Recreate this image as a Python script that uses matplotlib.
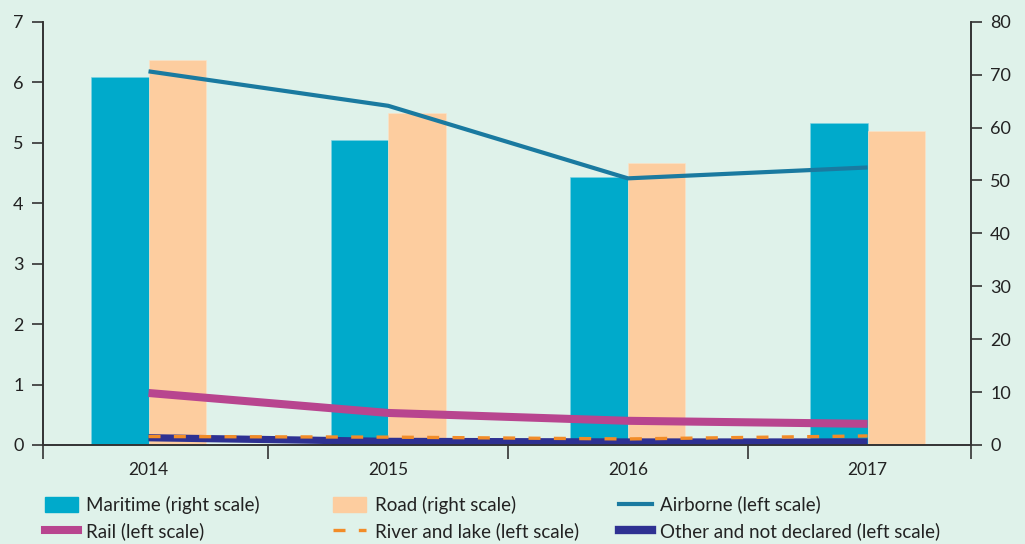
import matplotlib.pyplot as plt
import numpy as np
from matplotlib.patches import Patch
from matplotlib.lines import Line2D

plt.rcParams['font.family'] = ['Lato', 'DejaVu Sans']

years = ['2014', '2015', '2016', '2017']
maritime = [69.5, 57.7, 50.7, 60.9]    # right scale
road = [72.8, 62.8, 53.3, 59.4]        # right scale
airborne = [6.18, 5.61, 4.41, 4.59]    # left scale
rail = [0.86, 0.53, 0.40, 0.35]
river = [0.14, 0.13, 0.10, 0.15]
other = [0.12, 0.06, 0.05, 0.05]

bg = '#dff2ea'
c_mar = '#00aacb'
c_road = '#fdcd9f'
c_air = '#1a7aa0'
c_rail = '#b8458f'
c_river = '#f28c28'
c_other = '#2e3192'
c_axis = '#333333'

fig = plt.figure(figsize=(10.25, 5.44), dpi=100, facecolor=bg)
ax = fig.add_axes([0.042, 0.182, 0.905, 0.778])
ax.set_facecolor(bg)
x = np.arange(len(years))
w = 0.24

# bars on host axis (right scale), lines on twin (left scale) so they sit on top
ax.bar(x - w / 2, maritime, w, color=c_mar, edgecolor='#7fd3e3', linewidth=0.4)
ax.bar(x + w / 2, road, w, color=c_road, edgecolor='#fde3c8', linewidth=0.4)
ax.set_ylim(0, 80)
ax.set_xlim(-0.44, 3.43)
ax.set_yticks(range(0, 81, 10))

ax2 = ax.twinx()
ax.yaxis.tick_right()
ax2.yaxis.tick_left()
ax2.set_ylim(0, 7)
ax2.set_yticks(range(0, 8))
ax2.plot(x, airborne, color=c_air, lw=3, solid_capstyle='butt')
ax2.plot(x, rail, color=c_rail, lw=5.8, solid_capstyle='butt')
ax2.plot(x, other, color=c_other, lw=5.2, solid_capstyle='butt')
ax2.plot(x, river, color=c_river, lw=2.4, dashes=(3.6, 4.0))

for a in (ax, ax2):
    a.spines['top'].set_visible(False)
    for s in ('left', 'right', 'bottom'):
        a.spines[s].set_color(c_axis)
        a.spines[s].set_linewidth(1.2)
    a.tick_params(axis='y', length=8, width=1.2, color=c_axis,
                  labelsize=13, labelcolor='#222222', pad=6)

ax.set_xticks([-0.44, 0.5, 1.5, 2.5, 3.43])
ax.set_xticklabels([])
ax.tick_params(axis='x', which='major', length=10, width=1.2, color=c_axis)
ax.set_xticks(x, minor=True)
ax.set_xticklabels(years, minor=True)
ax.tick_params(axis='x', which='minor', length=0, labelsize=12.5,
               labelcolor='#222222', pad=12)

cols = [
    ([Patch(color=c_mar), Line2D([], [], color=c_rail, lw=5.8)],
     ['Maritime (right scale)', 'Rail (left scale)'], 0.035),
    ([Patch(color=c_road), Line2D([], [], color=c_river, lw=2.4, dashes=(3.6, 4.0))],
     ['Road (right scale)', 'River and lake (left scale)'], 0.316),
    ([Line2D([], [], color=c_air, lw=3), Line2D([], [], color=c_other, lw=6)],
     ['Airborne (left scale)', 'Other and not declared (left scale)'], 0.595),
]
for handles, labels, xpos in cols:
    fig.legend(handles, labels, loc='upper left', bbox_to_anchor=(xpos, 0.106),
               frameon=False, fontsize=13.5, handlelength=1.75, handleheight=0.85,
               handletextpad=0.45, labelspacing=0.45, borderpad=0,
               labelcolor='#222222')

fig.savefig('out.png', dpi=100, facecolor=bg)
